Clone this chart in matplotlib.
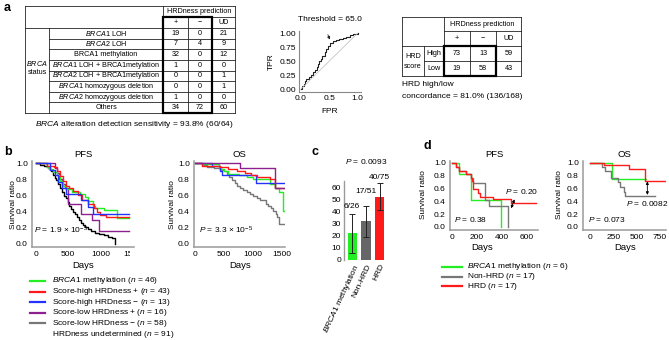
import matplotlib
matplotlib.use('Agg')
import matplotlib.pyplot as plt
from matplotlib.patches import Rectangle
from matplotlib.transforms import Bbox, TransformedBbox
import numpy as np

plt.rcParams['font.family'] = ['Liberation Sans', 'DejaVu Sans']
plt.rcParams['mathtext.fontset'] = 'custom'
plt.rcParams['mathtext.rm'] = 'Liberation Sans'
plt.rcParams['mathtext.it'] = 'Liberation Sans:italic'
plt.rcParams['mathtext.bf'] = 'Liberation Sans:bold'

W, H = 669, 340

# ---- panel a: BRCA status table ----
brca_rows = [r"$\it{BRCA1}$ LOH", r"$\it{BRCA2}$ LOH", "BRCA1 methylation",
             r"$\it{BRCA1}$ LOH + BRCA1metylation", r"$\it{BRCA2}$ LOH + BRCA1metylation",
             r"$\it{BRCA1}$ homozygous deletion", r"$\it{BRCA2}$ homozygous deletion", "Others"]
brca_pos = [19, 7, 32, 1, 0, 0, 1, 34]
brca_neg = [0, 4, 0, 0, 0, 0, 0, 72]
brca_ud = [21, 9, 12, 0, 1, 1, 0, 60]

# ---- panel a: ROC ----
roc_fpr = [0, 0.02, 0.05, 0.08, 0.1, 0.14, 0.18, 0.22, 0.25, 0.28, 0.3, 0.33, 0.36,
           0.38, 0.42, 0.45, 0.48, 0.52, 0.57, 0.62, 0.68, 0.74, 0.8, 0.86, 0.92, 1.0]
roc_tpr = [0, 0.05, 0.1, 0.15, 0.18, 0.22, 0.26, 0.3, 0.34, 0.4, 0.45, 0.5, 0.54,
           0.6, 0.66, 0.72, 0.78, 0.82, 0.86, 0.88, 0.9, 0.91, 0.93, 0.96, 0.98, 1.0]

# ---- panel a: HRD score table ----
score_rows = ["High", "Low"]
score_pos = [73, 19]
score_neg = [13, 58]
score_ud = [59, 43]

# ---- panel b: PFS ----
pfs_green_t = [0, 170, 200, 260, 330, 380, 420, 470, 560, 680, 760, 800, 880, 920, 1060, 1250, 1450]
pfs_green_s = [1, 0.96, 0.93, 0.89, 0.85, 0.78, 0.72, 0.68, 0.65, 0.62, 0.58, 0.53, 0.47, 0.45, 0.42, 0.32, 0.32]
pfs_red_t = [0, 175, 280, 330, 380, 420, 470, 520, 580, 650, 720, 800, 900, 950, 1000, 1080, 1450]
pfs_red_s = [1, 0.97, 0.95, 0.9, 0.84, 0.78, 0.72, 0.69, 0.66, 0.61, 0.55, 0.5, 0.44, 0.40, 0.36, 0.33, 0.33]
pfs_blue_t = [0, 220, 300, 350, 400, 470, 700, 800, 880, 1450]
pfs_blue_s = [1, 0.92, 0.85, 0.77, 0.69, 0.62, 0.54, 0.46, 0.37, 0.37]
pfs_purple_t = [0, 300, 330, 360, 400, 450, 500, 700, 875, 975, 1450]
pfs_purple_s = [1, 0.94, 0.88, 0.81, 0.75, 0.69, 0.5, 0.37, 0.30, 0.16, 0.16]
pfs_black_t = [0, 60, 120, 170, 200, 230, 260, 290, 310, 340, 370, 400, 430, 460, 490, 520, 550,
               580, 610, 640, 670, 700, 730, 760, 800, 850, 920, 980, 1050, 1120, 1180, 1220]
pfs_black_s = [1, 0.98, 0.97, 0.95, 0.93, 0.9, 0.86, 0.82, 0.79, 0.74, 0.69, 0.64, 0.6, 0.57, 0.52,
               0.47, 0.43, 0.4, 0.37, 0.33, 0.29, 0.26, 0.23, 0.21, 0.18, 0.16, 0.14, 0.12, 0.11,
               0.09, 0.07, 0.0]

# ---- panel b: OS ----
os_green_t = [0, 150, 420, 450, 500, 580, 760, 900, 1000, 1300, 1380, 1450, 1520, 1545]
os_green_s = [1, 0.99, 0.96, 0.93, 0.9, 0.87, 0.85, 0.83, 0.8, 0.74, 0.7, 0.64, 0.41, 0.41]
os_red_t = [0, 130, 440, 585, 730, 870, 980, 1070, 1300, 1380, 1545]
os_red_s = [1, 0.97, 0.95, 0.93, 0.9, 0.88, 0.86, 0.83, 0.8, 0.7, 0.7]
os_blue_t = [0, 300, 440, 480, 1060, 1545]
os_blue_s = [1, 0.97, 0.91, 0.85, 0.76, 0.76]
os_purple_t = [0, 790, 1380, 1545]
os_purple_s = [1, 0.94, 0.7, 0.7]
os_gray_t = [0, 130, 220, 330, 440, 500, 560, 600, 640, 700, 730, 780, 840, 900, 950, 1000, 1070,
             1130, 1180, 1230, 1270, 1320, 1360, 1400, 1420, 1450, 1540]
os_gray_s = [1, 0.98, 0.96, 0.94, 0.92, 0.9, 0.87, 0.83, 0.79, 0.76, 0.72, 0.7, 0.67, 0.65, 0.62,
             0.6, 0.57, 0.55, 0.54, 0.5, 0.47, 0.44, 0.41, 0.37, 0.33, 0.24, 0.24]

b_labels = [r"$\it{BRCA1}$ methylation ($\it{n}$ = 46)", r"Score-high HRDness + ($\it{n}$ = 43)",
            r"Score-high HRDness − ($\it{n}$ = 13)", r"Score-low HRDness + ($\it{n}$ = 16)",
            r"Score-low HRDness − ($\it{n}$ = 58)", r"HRDness undetermined ($\it{n}$ = 91)"]

# ---- panel c ----
c_groups = [r"$\it{BRCA1}$ methylation", "Non-HRD", "HRD"]
c_pct = [22, 32.5, 52]
c_lo = [5.5, 19.2, 41]
c_hi = [37.8, 44.4, 63.5]
c_frac = ["6/26", "17/51", "40/75"]
c_frac_y = [44, 56, 67.5]

# ---- panel d ----
d_pfs_green_t = [0, 55, 150, 400]
d_pfs_green_s = [1, 0.833, 0.417, 0.0]
d_pfs_gray_t = [0, 30, 55, 110, 150, 170, 270, 300, 455]
d_pfs_gray_s = [1, 0.94, 0.88, 0.82, 0.76, 0.68, 0.42, 0.32, 0.0]
d_pfs_red_t = [0, 35, 60, 110, 150, 160, 170, 210, 230, 330, 480, 680]
d_pfs_red_s = [1, 0.94, 0.88, 0.82, 0.76, 0.71, 0.59, 0.53, 0.47, 0.44, 0.38, 0.38]
d_os_green_t = [0, 240, 600]
d_os_green_s = [1, 0.75, 0.75]
d_os_gray_t = [0, 125, 160, 230, 300, 320, 365, 375, 700]
d_os_gray_s = [1, 0.94, 0.88, 0.76, 0.70, 0.63, 0.55, 0.49, 0.49]
d_os_red_t = [0, 150, 420, 590, 800]
d_os_red_s = [1, 0.97, 0.9, 0.72, 0.72]
d_labels = [r"$\it{BRCA1}$ methylation ($\it{n}$ = 6)", r"Non-HRD ($\it{n}$ = 17)", r"HRD ($\it{n}$ = 17)"]

GREEN = '#22ee22'
RED = '#ff1a1a'
BLUE = '#2233ff'
PURPLE = '#8e1f8e'
GRAY = '#777777'
FS = 6.0   # general small text
TS = 5.2   # table text

fig = plt.figure(figsize=(W / 100, H / 100), dpi=100)
fig.patch.set_facecolor('white')

# overlay in pixel coordinates for tables, legends and labels
ov = fig.add_axes([0, 0, 1, 1])
ov.set_xlim(0, W)
ov.set_ylim(H, 0)
ov.axis('off')


def px_axes(x0, y0, x1, y1):
    return fig.add_axes([x0 / W, 1 - y1 / H, (x1 - x0) / W, (y1 - y0) / H])


def hline(y, x0, x1, lw=0.6):
    ov.plot([x0, x1], [y, y], color='#222222', lw=lw, solid_capstyle='projecting')


def vline(x, y0, y1, lw=0.6):
    ov.plot([x, x], [y0, y1], color='#222222', lw=lw, solid_capstyle='projecting')


def style_km(ax):
    for side in ['top', 'right']:
        ax.spines[side].set_visible(False)
    for side in ['left', 'bottom']:
        ax.spines[side].set_color('#9a9a9a')
        ax.spines[side].set_linewidth(1.1)
    ax.tick_params(length=0, labelsize=FS, pad=3)
    ax.set_yticks([0, 0.2, 0.4, 0.6, 0.8, 1.0])
    ax.set_yticklabels(['0.0', '0.2', '0.4', '0.6', '0.8', '1.0'])


# panel letters
for letter, (x, y) in zip('abcd', [(4, 8), (4, 152), (311, 152), (423, 146)]):
    ov.text(x, y, letter, fontsize=9, fontweight='bold', va='center', ha='left')

# ---------- left table ----------
ry = np.linspace(28, 113, len(brca_rows) + 1)
hline(6, 25, 235)
hline(17, 163, 235)
hline(28, 25, 235)
for y in ry[1:-1]:
    hline(y, 49, 235)
hline(113, 25, 235)
vline(25, 6, 113)
vline(49, 28, 113)
vline(163, 6, 113)
vline(188, 17, 113)
vline(212, 17, 113)
vline(235, 6, 113)
ov.add_patch(Rectangle((163, 17), 49, 96, fill=False, lw=1.6, ec='black', zorder=5))
ov.text(199, 11.8, "HRDness prediction", fontsize=TS, ha='center', va='center')
for x, s in zip([175.5, 200, 223.5], ["+", "−", "UD"]):
    ov.text(x, 22.8, s, fontsize=TS, ha='center', va='center')
for i, lab in enumerate(brca_rows):
    yc = (ry[i] + ry[i + 1]) / 2
    ov.text(106, yc, lab, fontsize=TS, ha='center', va='center')
    for x, v in zip([175.5, 200, 223.5], [brca_pos[i], brca_neg[i], brca_ud[i]]):
        ov.text(x, yc, str(v), fontsize=TS, ha='center', va='center')
ov.text(37, 63, r"$\it{BRCA}$", fontsize=TS, ha='center', va='center')
ov.text(37, 72, "status", fontsize=TS, ha='center', va='center')
ov.text(134, 124, r"$\it{BRCA}$ alteration detection sensitivity = 93.8% (60/64)",
        fontsize=FS, ha='center', va='center')

# ---------- ROC ----------
ax = px_axes(299, 31, 361, 92)
ax.step(roc_fpr, roc_tpr, where='post', color='#222222', lw=0.8)
ax.plot([0, 1], [0, 1], color='#bbbbbb', lw=0.5)
ax.set_xlim(-0.03, 1.06)
ax.set_ylim(-0.05, 1.04)
for side in ['top', 'right']:
    ax.spines[side].set_visible(False)
for side in ['left', 'bottom']:
    ax.spines[side].set_color('#888888')
    ax.spines[side].set_linewidth(0.8)
ax.tick_params(length=0, labelsize=FS, pad=2)
ax.set_xticks([0, 0.5, 1.0])
ax.set_xticklabels(['0.0', '0.5', '1.0'])
ax.set_yticks([0, 0.25, 0.5, 0.75, 1.0])
ax.set_yticklabels(['0.00', '0.25', '0.50', '0.75', '1.00'])
ax.set_title("Threshold = 65.0", fontsize=FS, pad=7)
ax.set_xlabel("FPR", fontsize=FS)
ax.set_ylabel("TPR", fontsize=FS)
ax.xaxis.set_label_coords(330, 108, transform=ov.transData)
ax.yaxis.set_label_coords(275, 62, transform=ov.transData)
ax.annotate('', xy=(0.53, 0.84), xytext=(0.46, 1.02),
            arrowprops=dict(arrowstyle='-|>', lw=0.6, color='#222222', mutation_scale=4))

# ---------- right table ----------
hline(17, 402, 521)
hline(31, 444, 521)
hline(46, 402, 521)
hline(61, 424, 521)
hline(76, 402, 521)
vline(402, 17, 76)
vline(424, 46, 76)
vline(444, 17, 76)
vline(470, 31, 76)
vline(496, 31, 76)
vline(521, 17, 76)
ov.add_patch(Rectangle((444, 46), 52, 30, fill=False, lw=1.6, ec='black', zorder=5))
ov.text(482.5, 24.2, "HRDness prediction", fontsize=TS, ha='center', va='center')
for x, s in zip([457, 483, 508.5], ["+", "−", "UD"]):
    ov.text(x, 38.8, s, fontsize=TS, ha='center', va='center')
ov.text(413, 56.5, "HRD", fontsize=TS, ha='center', va='center')
ov.text(413, 66.5, "score", fontsize=TS, ha='center', va='center')
ry2 = [46, 61, 76]
for i, lab in enumerate(score_rows):
    yc = (ry2[i] + ry2[i + 1]) / 2
    ov.text(434, yc, lab, fontsize=TS, ha='center', va='center')
    for x, v in zip([457, 483, 508.5], [score_pos[i], score_neg[i], score_ud[i]]):
        ov.text(x, yc, str(v), fontsize=TS, ha='center', va='center')
ov.text(402, 85, "HRD high/low", fontsize=FS, ha='left', va='center')
ov.text(402, 96, "concordance = 81.0% (136/168)", fontsize=FS, ha='left', va='center')

# ---------- panel b PFS ----------
ax = px_axes(32, 161, 134, 247)
for t, s, c in [(pfs_black_t, pfs_black_s, 'black'), (pfs_purple_t, pfs_purple_s, PURPLE),
                (pfs_green_t, pfs_green_s, GREEN), (pfs_red_t, pfs_red_s, RED),
                (pfs_blue_t, pfs_blue_s, BLUE)]:
    ax.step(t, s, where='post', color=c, lw=1.0)
ax.set_xlim(-60, 1520)
ax.set_ylim(-0.04, 1.03)
style_km(ax)
ax.set_xticks([0, 500, 1000, 1500])
ax.set_title("PFS", fontsize=6.8, pad=3)
ax.set_xlabel("Days", fontsize=6.8)
ax.set_ylabel("Survival ratio", fontsize=FS)
ax.xaxis.set_label_coords(83, 261, transform=ov.transData)
ax.yaxis.set_label_coords(17, 205, transform=ov.transData)
ax.text(0.02, 0.19, r"$P$ = 1.9 × 10$^{-5}$", transform=ax.transAxes, fontsize=FS, va='center', zorder=10)
pfs_ax = ax

# ---------- panel b OS ----------
ax = px_axes(194, 161, 285, 247)
for t, s, c in [(os_gray_t, os_gray_s, GRAY), (os_green_t, os_green_s, GREEN),
                (os_blue_t, os_blue_s, BLUE), (os_red_t, os_red_s, RED),
                (os_purple_t, os_purple_s, PURPLE)]:
    ax.step(t, s, where='post', color=c, lw=1.0)
ax.set_xlim(-10, 1560)
ax.set_ylim(-0.04, 1.03)
style_km(ax)
ax.set_xticks([0, 500, 1000, 1500])
ax.set_title("OS", fontsize=6.8, pad=3)
ax.set_xlabel("Days", fontsize=6.8)
ax.set_ylabel("Survival ratio", fontsize=FS)
ax.xaxis.set_label_coords(240, 261, transform=ov.transData)
ax.yaxis.set_label_coords(176, 205, transform=ov.transData)
ax.text(0.06, 0.19, r"$P$ = 3.3 × 10$^{-5}$", transform=ax.transAxes, fontsize=FS, va='center')

# legend b
for i, lab in enumerate(b_labels):
    y = 281 + i * 10.6
    if i < 5:
        col = [GREEN, RED, BLUE, PURPLE, GRAY][i]
        ov.plot([30, 45], [y, y], color=col, lw=1.6)
    ov.text(52, y, lab, fontsize=FS, ha='left', va='center')

# ---------- panel c ----------
ax = px_axes(344, 181, 388, 260)
xs = np.arange(len(c_groups))
ax.bar(xs, c_pct, width=0.68, color=[GREEN, '#666666', RED])
yerr = [np.array(c_pct) - np.array(c_lo), np.array(c_hi) - np.array(c_pct)]
ax.errorbar(xs, c_pct, yerr=yerr, fmt='none', ecolor='#222222', elinewidth=0.7, capsize=2, capthick=0.7)
for x, y, lab in zip(xs, c_frac_y, c_frac):
    ax.text(x, y, lab, fontsize=FS, ha='center', va='center', clip_on=False)
ax.set_xlim(-0.6, 2.6)
ax.set_ylim(0, 65)
for side in ['top', 'right', 'bottom']:
    ax.spines[side].set_visible(False)
ax.spines['left'].set_color('#9a9a9a')
ax.spines['left'].set_linewidth(1.0)
ax.tick_params(length=0, labelsize=FS, pad=2)
ax.set_yticks([0, 10, 20, 30, 40, 50, 60])
ax.set_xticks(xs)
ax.set_xticklabels(c_groups, rotation=65, ha='right', rotation_mode='anchor', fontsize=FS)
ax.set_title(r"$P$ = 0.0093", fontsize=FS, pad=12)

# ---------- panel d PFS ----------
ax = px_axes(450, 161, 538, 230)
for t, s, c in [(d_pfs_green_t, d_pfs_green_s, GREEN), (d_pfs_gray_t, d_pfs_gray_s, GRAY),
                (d_pfs_red_t, d_pfs_red_s, RED)]:
    ax.step(t, s, where='post', color=c, lw=1.0)
ax.set_xlim(-16, 695)
ax.set_ylim(-0.05, 1.03)
style_km(ax)
ax.set_xticks([0, 200, 400, 600])
ax.set_title("PFS", fontsize=6.8, pad=3)
ax.set_xlabel("Days", fontsize=6.8)
ax.set_ylabel("Survival ratio", fontsize=FS)
ax.xaxis.set_label_coords(482, 243, transform=ov.transData)
ax.yaxis.set_label_coords(427, 195, transform=ov.transData)
ax.text(0.05, 0.15, r"$P$ = 0.38", transform=ax.transAxes, fontsize=FS, va='center')
ax.text(0.62, 0.56, r"$P$ = 0.20", transform=ax.transAxes, fontsize=FS, va='center')
ax.annotate('', xy=(505, 0.43), xytext=(478, 0.29),
            arrowprops=dict(arrowstyle='<|-|>', lw=0.6, color='black', mutation_scale=4, shrinkA=0, shrinkB=0))

# ---------- panel d OS ----------
ax = px_axes(583, 161, 666, 230)
for t, s, c in [(d_os_green_t, d_os_green_s, GREEN), (d_os_gray_t, d_os_gray_s, GRAY),
                (d_os_red_t, d_os_red_s, RED)]:
    ax.step(t, s, where='post', color=c, lw=1.0)
ax.set_xlim(-75, 815)
ax.set_ylim(-0.05, 1.03)
style_km(ax)
ax.set_xticks([0, 250, 500, 750])
ax.set_title("OS", fontsize=6.8, pad=3)
ax.set_xlabel("Days", fontsize=6.8)
ax.set_ylabel("Survival ratio", fontsize=FS)
ax.xaxis.set_label_coords(625, 243, transform=ov.transData)
ax.yaxis.set_label_coords(563, 195, transform=ov.transData)
ax.text(0.06, 0.15, r"$P$ = 0.073", transform=ax.transAxes, fontsize=FS, va='center')
ax.text(0.52, 0.38, r"$P$ = 0.0082", transform=ax.transAxes, fontsize=FS, va='center')
ax.annotate('', xy=(615, 0.71), xytext=(615, 0.5),
            arrowprops=dict(arrowstyle='<|-|>', lw=0.6, color='black', mutation_scale=4, shrinkA=0, shrinkB=0))

# legend d
for i, lab in enumerate(d_labels):
    y = 267 + i * 9.6
    ov.plot([442, 462], [y, y], color=[GREEN, GRAY, RED][i], lw=1.6)
    ov.text(467, y, lab, fontsize=FS, ha='left', va='center')

# the original crops the last PFS tick label
fig.canvas.draw()
clip = TransformedBbox(Bbox([[0, 0], [130, H]]), ov.transData)
for lab in pfs_ax.get_xticklabels():
    lab.set_clip_box(clip)
    lab.set_clip_on(True)

fig.savefig('out.png', dpi=100, facecolor='white')
